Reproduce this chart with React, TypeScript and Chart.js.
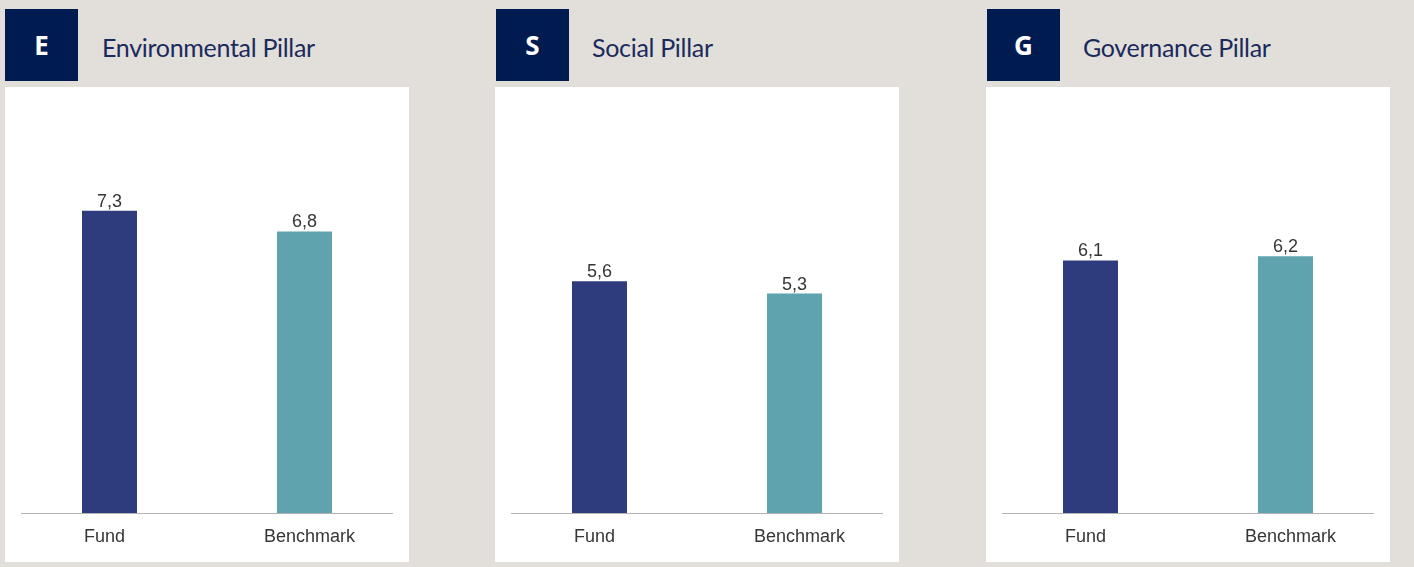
import React, { useEffect, useRef } from "react";
import { Chart, registerables } from "chart.js";

Chart.register(...registerables);

const categories = ["Fund", "Benchmark"];
const pillarLetters = ["E", "S", "G"];
const pillarTitles = ["Environmental Pillar", "Social Pillar", "Governance Pillar"];
const fundScores = [7.3, 5.6, 6.1];
const benchmarkScores = [6.8, 5.3, 6.2];
const yAxisMax = 10;

const BAR_COLORS = ["#2e3b7d", "#5fa3ae"];
const PANEL_LEFT = [5, 495, 986];
const PANEL_W = 404;
const PANEL_H = 475;

const fmt = (v: number) => v.toFixed(1).replace(".", ",");

const labelPlugin = {
  id: "pillarLabels",
  afterDatasetsDraw(chart: any) {
    const { ctx, chartArea } = chart;
    const xScale = chart.scales.x;
    const yScale = chart.scales.y;
    const y0 = yScale.getPixelForValue(0);
    ctx.save();
    // baseline
    ctx.strokeStyle = "#b3b3b3";
    ctx.lineWidth = 1.2;
    ctx.beginPath();
    ctx.moveTo(chartArea.left + 9, y0 + 0.5);
    ctx.lineTo(chartArea.right - 9, y0 + 0.5);
    ctx.stroke();
    // value labels
    ctx.fillStyle = "#363636";
    ctx.font = "18px 'Liberation Sans', Arial, sans-serif";
    ctx.textAlign = "center";
    ctx.textBaseline = "alphabetic";
    const meta = chart.getDatasetMeta(0);
    meta.data.forEach((bar: any, i: number) => {
      const v = chart.data.datasets[0].data[i];
      ctx.fillText(fmt(v), bar.x, bar.y - 4);
    });
    // category labels
    ctx.textBaseline = "alphabetic";
    chart.data.labels.forEach((lab: string, i: number) => {
      const x = xScale.getPixelForValue(i);
      ctx.fillText(lab, x + (i === 0 ? -5 : 5), y0 + 29);
    });
    ctx.restore();
  },
};

function PillarChart({ index }: { index: number }) {
  const ref = useRef<HTMLCanvasElement | null>(null);
  useEffect(() => {
    if (!ref.current) return;
    const chart = new Chart(ref.current, {
      type: "bar",
      data: {
        labels: categories,
        datasets: [
          {
            data: [fundScores[index], benchmarkScores[index]],
            backgroundColor: BAR_COLORS,
            borderWidth: 0,
            barPercentage: 0.282,
            categoryPercentage: 1,
          },
        ],
      },
      options: {
        responsive: false,
        animation: false,
        layout: { padding: { left: 7, right: 7, top: 12, bottom: 49 } },
        plugins: { legend: { display: false }, tooltip: { enabled: false } },
        scales: {
          x: { display: false },
          y: { display: false, min: 0, max: yAxisMax },
        },
      },
      plugins: [labelPlugin],
    });
    return () => chart.destroy();
  }, [index]);

  const left = PANEL_LEFT[index];
  return (
    <>
      <div
        style={{
          position: "absolute",
          left: left + (index === 0 ? 0 : 1),
          top: 9,
          width: 73,
          height: 72,
          background: "#001b50",
          color: "#ffffff",
          fontFamily: "'Open Sans', 'Noto Sans', sans-serif",
          fontWeight: 700,
          fontSize: 26,
          display: "flex",
          alignItems: "center",
          justifyContent: "center",
        }}
      >
        {pillarLetters[index]}
      </div>
      <div
        style={{
          position: "absolute",
          left: left + 97,
          top: 30,
          height: 34,
          lineHeight: "34px",
          color: "#1b2a5c",
          fontFamily: "Lato, 'Noto Sans', sans-serif",
          fontSize: 25,
          letterSpacing: -0.3,
          whiteSpace: "nowrap",
        }}
      >
        {pillarTitles[index]}
      </div>
      <div
        style={{
          position: "absolute",
          left,
          top: 87,
          width: PANEL_W,
          height: PANEL_H,
          background: "#ffffff",
        }}
      >
        <canvas ref={ref} width={PANEL_W} height={PANEL_H} style={{ display: "block" }} />
      </div>
    </>
  );
}

export default function App() {
  return (
    <div
      style={{
        position: "absolute",
        left: 0,
        top: 0,
        width: 1414,
        height: 567,
        background: "#e2dfdb",
        overflow: "hidden",
      }}
    >
      {pillarLetters.map((_, i) => (
        <PillarChart key={i} index={i} />
      ))}
    </div>
  );
}
